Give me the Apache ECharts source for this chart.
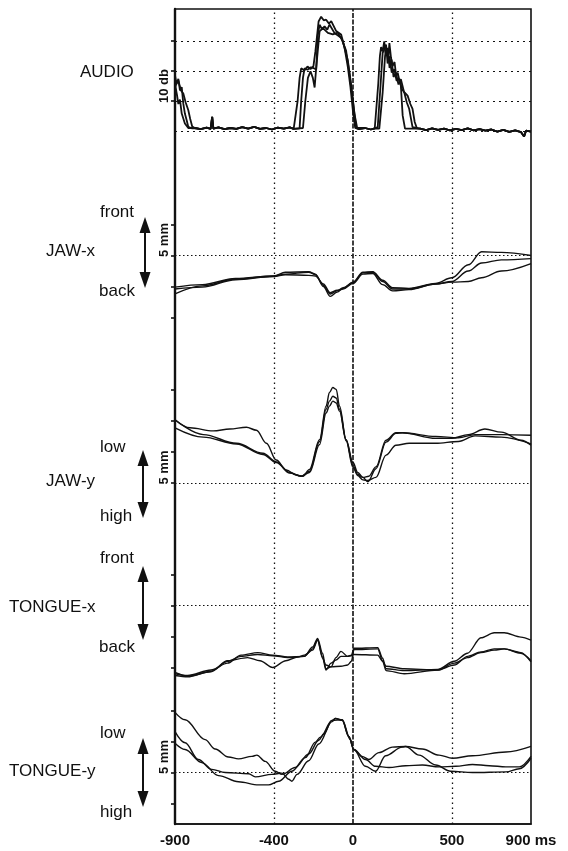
<!DOCTYPE html>
<html>
<head>
<meta charset="utf-8">
<script src="https://cdn.jsdelivr.net/npm/echarts@6/dist/echarts.min.js"></script>
<style>
  html, body { margin: 0; padding: 0; background: #fff; }
  #chart { width: 568px; height: 851px; }
</style>
</head>
<body>
<div id="chart"></div>
<script>
// ---- time axis (ms) ----
const timeMin = -900;
const timeMax = 900;
const timeTickValues = [-900, -400, 0, 500, 900];
const timeTickText = ['-900', '-400', '0', '500', '900 ms'];
const timeGridLines = [-400, 0, 500];

// ---- AUDIO envelope (dB), three tokens; bursts per token ----
const audio1 = [
  [[-900,18.5],[-892,15.7],[-883,17.4],[-875,13.5],[-866,14.6],[-858,9.1],[-850,5.8],[-841,3.6],[-833,1.4],[-816,0.9]],
  [[-290,0.5],[-280,10.0],[-270,17.7],[-262,20.9],[-246,20.2],[-230,21.5],[-215,20.6],[-200,21.6],[-190,26.6],[-174,36.5],[-161,38.1],[-148,36.9],[-136,37.1],[-122,35.8],[-110,36.6],[-85,33.3],[-60,32.2],[-43,27.9],[-26,21.3],[-13,14.7],[-1,7.0],[11,1.0]],
  [[116,1.3],[128,16.0],[136,25.0],[142,28.0],[150,26.5],[158,29.9],[165,25.0],[172,27.1],[178,24.0],[184,29.3],[192,24.5],[200,21.6],[210,23.0],[218,18.5],[226,19.4],[234,17.0],[242,15.1],[251,5.2],[263,0.8]]
];
const audio2 = [
  [[-900,14.6],[-891,16.0],[-883,16.8],[-870,13.5],[-858,12.5],[-846,9.5],[-833,7.0],[-823,4.0],[-813,1.5]],
  [[-270,0.9],[-262,10.0],[-253,17.7],[-245,20.9],[-230,20.4],[-215,21.2],[-200,21.0],[-186,20.5],[-178,32.0],[-169,35.4],[-157,34.0],[-144,34.9],[-130,33.8],[-119,35.5],[-94,32.7],[-60,31.1],[-35,26.8],[-18,19.1],[-1,10.3],[16,1.0]],
  [[125,1.3],[139,15.0],[150,26.0],[160,27.5],[167,28.8],[175,22.5],[184,24.9],[196,19.5],[209,20.6],[220,16.8],[234,17.3],[247,14.0],[259,12.9],[272,9.5],[284,7.4],[301,1.3]]
];
const audio3 = [
  [[-900,15.7],[-890,12.0],[-883,9.0],[-875,10.5],[-866,5.8],[-850,2.5],[-833,1.0]],
  [[-253,1.0],[-241,10.0],[-228,17.7],[-215,19.9],[-203,17.7],[-194,14.5],[-186,21.1],[-169,33.2],[-152,34.3],[-127,32.7],[-102,32.2],[-77,32.8],[-52,30.0],[-26,23.5],[-10,15.8],[7,5.9],[21,1.0]],
  [[133,0.8],[150,12.9],[162,24.9],[175,27.7],[185,21.0],[195,23.8],[205,18.0],[217,19.4],[230,15.5],[242,17.3],[258,13.0],[276,11.8],[290,9.0],[301,7.4],[312,3.0],[323,0.9]]
];
// background noise floor between bursts
const audioFloor = [
  [-800,1.0],[-770,0.6],[-740,1.1],[-720,0.7],[-712,4.7],[-706,0.8],[-680,1.2],[-650,0.6],[-620,1.0],[-590,0.7],
  [-560,1.3],[-530,0.8],[-500,1.4],[-470,0.7],[-440,1.0],[-410,0.5],[-380,1.1],[-350,0.8],[-320,1.2],[-300,0.7],
  [30,0.6],[60,1.0],[90,0.5],[110,0.9],
  [340,0.8],[370,0.3],[400,0.9],[430,0.4],[460,0.8],[490,0.2],[520,0.7],[550,0.3],[580,0.9],[610,0.2],
  [640,0.6],[670,0.1],[700,0.5],[730,-0.2],[760,0.4],[790,-0.3],[820,0.2],[850,-0.4],[865,-1.8],[875,0.1],[900,-0.2]
];

// ---- JAW-x (mm, + = front) ----
const jawX1 = [[-900,-5.1],[-762,-4.7],[-594,-3.7],[-400,-3.3],[-342,-2.7],[-224,-2.6],[-190,-3.0],[-150,-5.0],[-115,-6.6],[-80,-5.9],[-50,-5.3],[0,-4.3],[50,-2.7],[100,-2.6],[150,-4.0],[200,-5.2],[283,-5.3],[417,-4.5],[500,-3.6],[583,-1.5],[650,0.6],[750,0.5],[900,0.0]];
const jawX2 = [[-900,-6.2],[-762,-4.9],[-594,-3.8],[-400,-3.3],[-342,-3.0],[-224,-2.7],[-190,-3.1],[-150,-4.8],[-115,-6.2],[-80,-5.7],[-50,-5.2],[0,-4.4],[50,-2.8],[100,-2.7],[150,-4.2],[200,-5.4],[283,-5.4],[417,-4.6],[500,-4.2],[583,-2.5],[650,-1.2],[750,-0.7],[900,-0.5]];
const jawX3 = [[-900,-5.4],[-762,-5.1],[-594,-3.9],[-400,-3.4],[-342,-3.1],[-224,-3.2],[-190,-3.3],[-150,-4.6],[-115,-6.0],[-80,-5.6],[-50,-5.4],[0,-4.5],[50,-3.0],[100,-2.9],[150,-4.7],[200,-5.7],[283,-5.5],[417,-4.6],[500,-4.3],[583,-4.2],[650,-3.6],[750,-2.5],[900,-1.3]];

// ---- JAW-y (mm, + = low) ----
const jawY1 = [[-900,10.2],[-824,8.9],[-707,8.4],[-623,8.7],[-539,9.0],[-488,8.5],[-438,6.4],[-388,3.7],[-337,2.1],[-287,1.3],[-253,1.1],[-220,2.2],[-169,7.0],[-136,12.4],[-119,14.6],[-102,15.4],[-85,15.1],[-68,12.4],[-35,7.0],[0,3.3],[24,1.7],[50,0.9],[75,0.2],[116,2.3],[167,6.6],[217,8.0],[250,8.1],[418,7.2],[500,7.2],[583,7.8],[667,8.7],[750,8.2],[850,6.9],[900,6.1]];
const jawY2 = [[-900,10.2],[-757,7.8],[-589,6.4],[-455,4.8],[-388,3.4],[-320,1.6],[-262,1.1],[-220,1.9],[-169,6.7],[-136,11.9],[-119,13.2],[-102,14.0],[-85,13.7],[-68,11.9],[-35,7.0],[0,2.8],[24,1.4],[50,0.9],[80,1.1],[116,2.6],[167,6.9],[217,8.1],[250,8.1],[418,7.5],[533,7.3],[617,7.8],[750,7.8],[900,7.7]];
const jawY3 = [[-900,8.9],[-757,7.4],[-589,6.3],[-455,4.6],[-388,3.3],[-320,1.7],[-262,1.1],[-220,1.7],[-169,6.2],[-136,11.3],[-119,12.4],[-102,13.2],[-85,12.9],[-68,11.6],[-35,6.8],[0,2.5],[24,1.2],[50,0.5],[75,0.4],[116,0.9],[167,4.5],[217,6.1],[284,6.4],[418,6.4],[533,6.7],[617,7.6],[750,7.4],[900,6.3]];

// ---- TONGUE-x (mm, + = front) ----
const tongueX1 = [[-900,-11.0],[-836,-11.3],[-718,-10.4],[-634,-9.3],[-566,-8.0],[-482,-7.6],[-406,-8.0],[-330,-8.3],[-246,-8.2],[-204,-6.7],[-179,-5.3],[-154,-7.7],[-137,-10.2],[-111,-9.9],[-86,-8.4],[-61,-7.4],[-27,-8.2],[-8,-8.0],[5,-6.9],[125,-6.8],[150,-8.5],[167,-10.2],[259,-10.5],[428,-10.3],[512,-9.0],[579,-7.7],[647,-5.2],[714,-4.4],[765,-4.4],[849,-5.1],[900,-5.6]];
const tongueX2 = [[-900,-10.8],[-836,-11.4],[-718,-10.7],[-634,-9.0],[-566,-8.2],[-482,-7.9],[-406,-8.1],[-330,-8.4],[-246,-8.2],[-204,-7.0],[-179,-5.5],[-154,-8.3],[-137,-10.4],[-111,-9.3],[-86,-8.8],[-61,-8.2],[-27,-8.2],[-8,-8.1],[5,-7.9],[125,-8.0],[150,-9.0],[167,-9.8],[259,-10.2],[428,-10.4],[512,-9.3],[579,-8.4],[647,-7.6],[714,-7.2],[765,-7.0],[849,-7.6],[900,-9.1]];
const tongueX3 = [[-900,-11.3],[-836,-11.5],[-718,-10.6],[-634,-8.9],[-533,-8.4],[-470,-8.9],[-406,-10.0],[-340,-8.9],[-280,-8.3],[-246,-8.0],[-204,-7.2],[-179,-5.6],[-154,-8.5],[-137,-9.6],[-111,-9.9],[-61,-9.8],[-27,-9.6],[-8,-9.0],[5,-7.1],[125,-7.0],[150,-9.0],[167,-10.5],[259,-11.0],[428,-10.4],[512,-9.6],[579,-8.2],[647,-7.5],[714,-7.0],[765,-7.0],[849,-7.7],[900,-8.9]];

// ---- TONGUE-y (mm, + = low) ----
const tongueY1 = [[-900,9.7],[-849,8.5],[-748,5.3],[-697,3.8],[-630,2.5],[-579,2.2],[-511,2.6],[-486,2.8],[-444,1.8],[-393,0.2],[-359,-0.3],[-292,0.8],[-224,3.0],[-173,5.2],[-148,6.2],[-106,8.4],[-89,8.7],[-55,8.5],[-21,5.8],[4,3.7],[46,2.6],[80,2.1],[131,3.2],[199,4.1],[266,4.2],[351,3.8],[435,2.8],[503,2.3],[604,2.7],[773,3.3],[900,4.2]];
const tongueY2 = [[-900,6.6],[-849,4.8],[-782,2.1],[-714,0.5],[-646,0.0],[-528,-0.2],[-494,-0.7],[-410,-0.3],[-359,-0.1],[-325,-1.1],[-309,-1.4],[-283,-0.3],[-224,1.9],[-173,4.6],[-106,8.2],[-89,8.7],[-55,8.4],[-21,5.8],[4,3.7],[63,1.0],[114,0.2],[165,2.7],[249,4.1],[266,4.2],[334,2.8],[418,1.2],[494,0.2],[604,0.0],[773,0.1],[841,0.6],[900,2.3]];
const tongueY3 = [[-900,4.7],[-849,3.7],[-765,1.6],[-680,-0.5],[-579,-1.5],[-477,-2.0],[-427,-2.0],[-376,-1.4],[-309,0.2],[-241,2.4],[-190,4.9],[-165,5.7],[-106,8.4],[-55,8.5],[-13,5.3],[4,3.7],[63,2.1],[114,1.0],[182,0.8],[266,1.1],[351,1.2],[435,0.9],[520,1.0],[604,1.3],[689,1.1],[773,0.9],[841,0.9],[900,2.6]];

// ---- helpers ----
const FONT = "'Liberation Sans', Arial, Helvetica, sans-serif";
const INK = '#111';

// join burst segments with the noise floor lying outside them
function audioTrace(segments) {
  const pts = [];
  segments.forEach(s => pts.push(...s));
  const windows = segments.map(s => [s[0][0], s[s.length - 1][0]]);
  audioFloor.forEach(p => {
    if (!windows.some(w => p[0] >= w[0] && p[0] <= w[1])) pts.push(p);
  });
  return pts.sort((a, b) => a[0] - b[0]);
}

// panel layout (px) and value ranges
const panels = [
  { top: 11,    height: 120, min: 0,   max: 40, interval: 10, ticks: [10, 20, 30], refs: [0, 10, 20, 30],
    traces: [audioTrace(audio1), audioTrace(audio2), audioTrace(audio3)], smooth: false, width: 1.8, dash: [2, 4] },
  { top: 224.5, height: 93,  min: -10, max: 5,  interval: 5, ticks: null, refs: [0],
    traces: [jawX1, jawX2, jawX3], smooth: 0.35, width: 1.4, dash: [1.5, 2.5] },
  { top: 390,   height: 93,  min: 0,   max: 15, interval: 5, ticks: null, refs: [0],
    traces: [jawY1, jawY2, jawY3], smooth: 0.35, width: 1.4, dash: [1.5, 2.5] },
  { top: 574.5, height: 93,  min: -10, max: 5,  interval: 5, ticks: null, refs: [0],
    traces: [tongueX1, tongueX2, tongueX3], smooth: 0.3, width: 1.4, dash: [1.5, 2.5] },
  { top: 710.5, height: 93,  min: -5,  max: 10, interval: 5, ticks: null, refs: [0],
    traces: [tongueY1, tongueY2, tongueY3], smooth: 0.35, width: 1.4, dash: [1.5, 2.5] }
];

const grids = [{ left: 175, top: 9, width: 356, height: 815, show: true, borderColor: INK, borderWidth: 1.6, backgroundColor: 'transparent' }];
const xAxes = [{
  type: 'value', gridIndex: 0, min: timeMin, max: timeMax, interval: 100, position: 'bottom',
  axisLine: { show: true, onZero: false, lineStyle: { color: INK, width: 1.6 } },
  axisTick: { show: false },
  splitLine: { show: false },
  axisLabel: {
    color: INK, fontSize: 15, fontWeight: 'bold', fontFamily: FONT, margin: 9,
    showMinLabel: true, showMaxLabel: true,
    formatter: v => { const k = timeTickValues.indexOf(v); return k < 0 ? '' : timeTickText[k]; }
  }
}];
const yAxes = [{
  type: 'value', gridIndex: 0, min: 0, max: 1, position: 'left',
  axisLine: { show: true, onZero: false, lineStyle: { color: INK, width: 2.4 } },
  axisTick: { show: false }, axisLabel: { show: false }, splitLine: { show: false }
}];
const series = [{
  type: 'line', xAxisIndex: 0, yAxisIndex: 0, data: [[timeMin, 0]], symbol: 'none',
  lineStyle: { opacity: 0 }, silent: true,
  markLine: {
    silent: true, symbol: ['none', 'none'], label: { show: false }, animation: false,
    data: timeGridLines.map(v => ({
      xAxis: v,
      lineStyle: { color: INK, width: v === 0 ? 1.6 : 1.3, type: v === 0 ? [5, 1.5] : [1.6, 3.4] }
    }))
  }
}];

panels.forEach((p, i) => {
  const gi = i + 1;
  grids.push({ left: 175, width: 356, top: p.top, height: p.height });
  xAxes.push({ type: 'value', gridIndex: gi, min: timeMin, max: timeMax, interval: 100, show: false,
    axisLine: { onZero: false } });
  const tick = { show: true, length: 4, inside: false, lineStyle: { color: INK, width: 1.6 } };
  if (p.ticks) tick.customValues = p.ticks;
  yAxes.push({
    type: 'value', gridIndex: gi, min: p.min, max: p.max, interval: p.interval, position: 'left',
    axisLine: { show: false, onZero: false }, axisTick: tick, axisLabel: { show: false }, splitLine: { show: false }
  });
  p.traces.forEach((d, k) => {
    const s = {
      type: 'line', xAxisIndex: gi, yAxisIndex: gi, data: d,
      showSymbol: false, symbol: 'none', clip: false, silent: true,
      smooth: p.smooth, smoothMonotone: 'x',
      lineStyle: { color: INK, width: p.width }
    };
    if (k === 0) {
      s.markLine = {
        silent: true, symbol: ['none', 'none'], label: { show: false }, animation: false,
        data: p.refs.map(v => ({ yAxis: v, lineStyle: { color: INK, width: 1.2, type: p.dash } }))
      };
    }
    series.push(s);
  });
});

const chart = echarts.init(document.getElementById('chart'), null, { renderer: 'canvas' });
chart.setOption({ animation: false, backgroundColor: '#fff', grid: grids, xAxis: xAxes, yAxis: yAxes, series: series });

// ---- side annotations ----
const labelStyle = (text, x, y, extra) => ({
  type: 'text', x: x, y: y, silent: true,
  style: Object.assign({ text: text, fill: INK, font: '17px ' + FONT, textVerticalAlign: 'middle', textAlign: 'left' }, extra || {})
});
function arrow(x, y1, y2) {
  const h = 16, w = 5.5;
  return {
    type: 'group', silent: true, children: [
      { type: 'line', shape: { x1: x, y1: y1 + h - 2, x2: x, y2: y2 - h + 2 }, style: { stroke: INK, lineWidth: 2 } },
      { type: 'polygon', shape: { points: [[x, y1], [x - w, y1 + h], [x + w, y1 + h]] }, style: { fill: INK } },
      { type: 'polygon', shape: { points: [[x, y2], [x - w, y2 - h], [x + w, y2 - h]] }, style: { fill: INK } }
    ]
  };
}
function scaleText(text, axisIndex, a, b) {
  const y = (chart.convertToPixel({ yAxisIndex: axisIndex }, a) + chart.convertToPixel({ yAxisIndex: axisIndex }, b)) / 2;
  return {
    type: 'text', x: 164, y: y, rotation: Math.PI / 2, silent: true,
    style: { text: text, fill: INK, font: 'bold 13px ' + FONT, textAlign: 'center', textVerticalAlign: 'middle' }
  };
}

chart.setOption({
  graphic: [
    labelStyle('AUDIO', 80, 72),
    scaleText('10 db', 1, 10, 20),

    labelStyle('front', 100, 212), labelStyle('JAW-x', 46, 251), labelStyle('back', 99, 291),
    arrow(145, 217, 288),
    scaleText('5 mm', 2, 0, 5),

    labelStyle('low', 100, 447), labelStyle('JAW-y', 46, 481), labelStyle('high', 100, 516),
    arrow(143, 450, 518),
    scaleText('5 mm', 3, 0, 5),

    labelStyle('front', 100, 558), labelStyle('TONGUE-x', 9, 607), labelStyle('back', 99, 647),
    arrow(143, 566, 640),

    labelStyle('low', 100, 733), labelStyle('TONGUE-y', 9, 771), labelStyle('high', 100, 812),
    arrow(143, 738, 807),
    scaleText('5 mm', 5, 0, 5)
  ]
});
</script>
</body>
</html>
